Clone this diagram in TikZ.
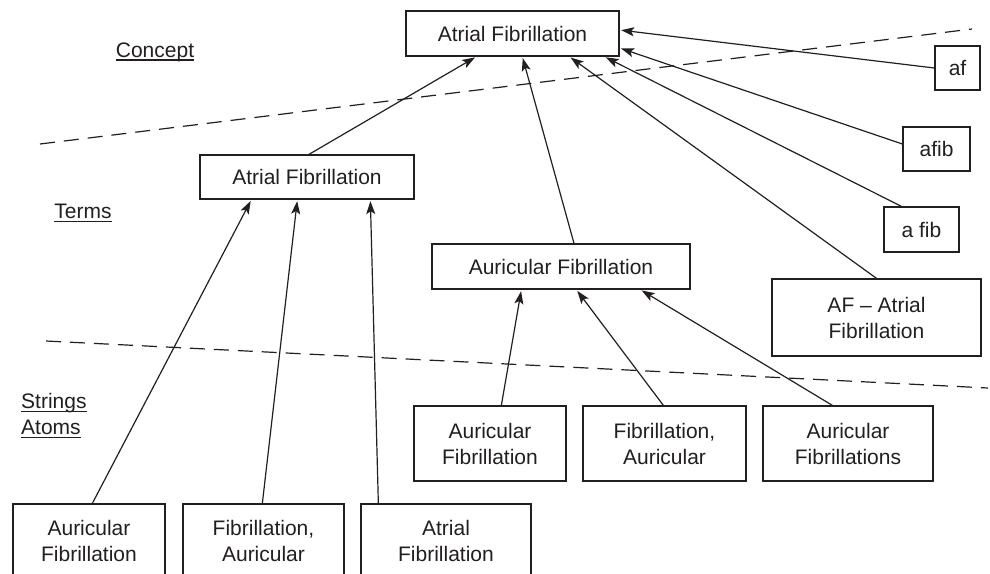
\documentclass[tikz,border=0pt]{standalone}
\usepackage{fontspec}
\setmainfont{Liberation Sans}
\usetikzlibrary{arrows.meta}
\definecolor{ink}{HTML}{231F20}
\newsavebox{\ulbox}
\newcommand\myul[1]{\sbox{\ulbox}{#1}\rlap{\rule[-3.5pt]{\wd\ulbox}{1.4pt}}\usebox{\ulbox}}
\begin{document}
\begin{tikzpicture}[x=1pt,y=-1pt,
  every node/.style={font=\fontsize{21}{26}\selectfont, text=ink},
  box/.style={draw=ink, line width=1.3pt, rectangle, inner sep=0pt, align=center},
  arr/.style={draw=ink, line width=1.2pt, -{Stealth[length=13pt,width=9pt,inset=3pt]}, shorten >=1.5pt},
  sep/.style={draw=ink, line width=1.2pt, dash pattern=on 15pt off 9pt},
  lbl/.style={inner sep=0pt, align=left}]
\clip (0,0) rectangle (990,573);
\fill[white] (0,0) rectangle (990,573);

% separators
\coordinate (s1a) at (40,144);
\coordinate (s1b) at (972,29);
\coordinate (s2a) at (46,341);
\coordinate (s2b) at (988,388);
\draw[sep] (s1a) -- (s1b);
\draw[sep] (s2a) -- (s2b);

% level labels
\node[lbl] (lconcept) at (155,52) {\myul{Concept}};
\node[lbl] (lterms) at (83,213) {\myul{Terms}};
\node[lbl, anchor=west] (lstrings) at (21,416) {\myul{Strings}\\\myul{Atoms}};

% concept
\node[box, minimum width=213pt, minimum height=45pt] (c) at (512.5,33.5) {Atrial Fibrillation};

% terms
\node[box, minimum width=214pt, minimum height=44pt] (t1) at (307,177) {Atrial Fibrillation};
\node[box, minimum width=258pt, minimum height=45pt] (t2) at (561,266.5) {Auricular Fibrillation};
\node[box, minimum width=45pt, minimum height=44pt] (af) at (957.5,68) {af};
\node[box, minimum width=67pt, minimum height=44pt] (afib) at (936.5,149) {afib};
\node[box, minimum width=75pt, minimum height=45pt] (afb) at (921.5,229.5) {a fib};
\node[box, minimum width=209pt, minimum height=77pt] (AF) at (876.5,317.5) {AF -- Atrial\\Fibrillation};

% strings / atoms
\node[box, minimum width=152pt, minimum height=75pt] (m1) at (490,443.5) {Auricular\\Fibrillation};
\node[box, minimum width=163pt, minimum height=75pt] (m2) at (664.5,443.5) {Fibrillation,\\Auricular};
\node[box, minimum width=170pt, minimum height=75pt] (m3) at (848,443.5) {Auricular\\Fibrillations};
\node[box, minimum width=152pt, minimum height=73pt] (b1) at (89,540.5) {Auricular\\Fibrillation};
\node[box, minimum width=161pt, minimum height=73pt] (b2) at (263.5,540.5) {Fibrillation,\\Auricular};
\node[box, minimum width=170pt, minimum height=73pt] (b3) at (446,540.5) {Atrial\\Fibrillation};

% connectors to concept
\draw[arr] ([xshift=2pt]t1.north) -- ([xshift=71pt]c.south west);
\draw[arr] ([xshift=13pt]t2.north) -- ([xshift=117pt]c.south west);
\draw[arr] (AF.north) -- ([xshift=164pt]c.south west);
\draw[arr] ([xshift=18pt]afb.north west) -- ([xshift=199pt]c.south west);
\draw[arr] ([yshift=5pt]afib.west) -- ([yshift=-14.5pt]c.east);
\draw[arr] (af.west) -- ([yshift=3.5pt]c.east);

% connectors to terms
\draw[arr] ([xshift=80pt]b1.north west) -- ([xshift=52pt]t1.south west);
\draw[arr] ([xshift=80pt]b2.north west) -- ([xshift=98pt]t1.south west);
\draw[arr] ([xshift=18pt]b3.north west) -- ([xshift=171pt]t1.south west);
\draw[arr] ([xshift=88pt]m1.north west) -- ([xshift=90pt]t2.south west);
\draw[arr] ([xshift=81pt]m2.north west) -- ([xshift=145pt]t2.south west);
\draw[arr] ([xshift=70pt]m3.north west) -- ([xshift=209pt]t2.south west);
\end{tikzpicture}
\end{document}
